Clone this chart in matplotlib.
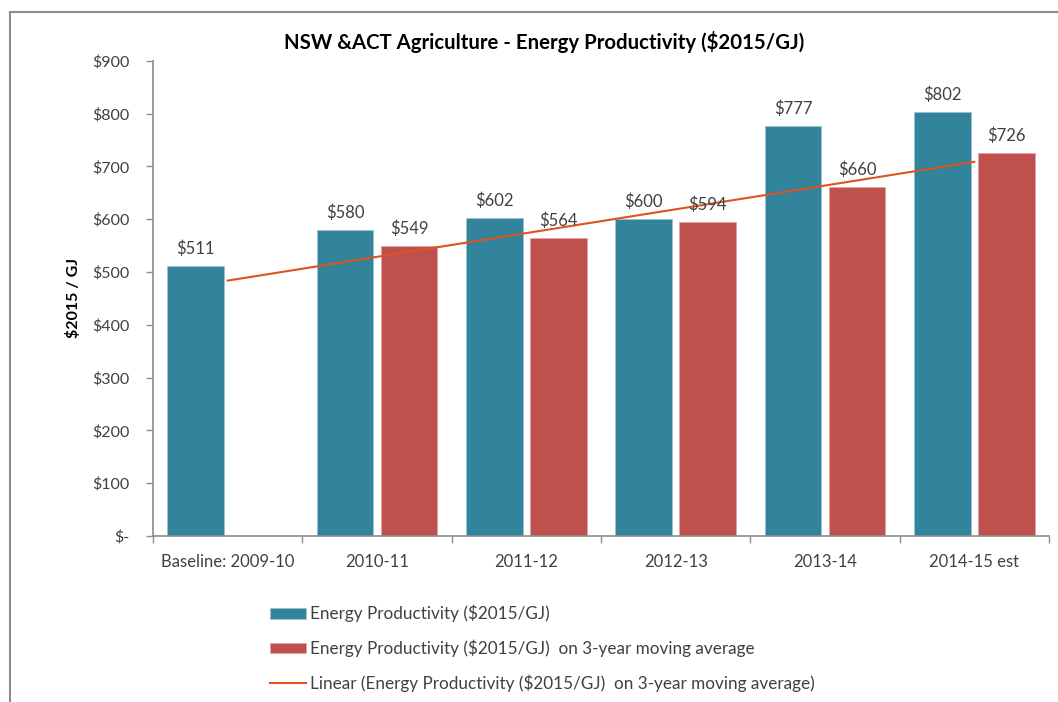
import matplotlib
matplotlib.use("Agg")
import matplotlib.pyplot as plt
import numpy as np
from matplotlib.lines import Line2D

plt.rcParams['font.family'] = ['Lato', 'DejaVu Sans']

categories = ["Baseline: 2009-10", "2010-11", "2011-12", "2012-13", "2013-14", "2014-15 est"]
energy_prod = [511, 580, 602, 600, 777, 802]
moving_avg = [None, 549, 564, 594, 660, 726]
yticks = [0, 100, 200, 300, 400, 500, 600, 700, 800, 900]
ytick_labels = ["$-", "$100", "$200", "$300", "$400", "$500", "$600", "$700", "$800", "$900"]

label1 = "Energy Productivity ($2015/GJ)"
label2 = "Energy Productivity ($2015/GJ)  on 3-year moving average"
label3 = "Linear (Energy Productivity ($2015/GJ)  on 3-year moving average)"

teal = "#31849B"
red = "#C0504D"
trend_col = "#DE5322"
txt_col = "#404040"
ax_col = "#8C8C8C"

W, H = 1058, 702
fig = plt.figure(figsize=(W / 100, H / 100), dpi=100)
ax = fig.add_axes([153 / W, 1 - 536 / H, (1049 - 153) / W, (536 - 60.7) / H])

x = np.arange(len(categories))
bw = 0.38
off = 0.215

b1 = ax.bar(x - off, energy_prod, bw, color=teal, edgecolor="#9CC3CF", linewidth=0.5, label=label1, zorder=2)
ma_x = np.array([i for i, v in enumerate(moving_avg) if v is not None])
ma_y = np.array([v for v in moving_avg if v is not None])
b2 = ax.bar(ma_x + off, ma_y, bw, color=red, edgecolor="#E0A5A3", linewidth=0.5, label=label2, zorder=2)

# data labels
for xi, v in zip(x - off, energy_prod):
    ax.text(xi, v + 17, f"${v}", ha="center", va="bottom", fontsize=12, color=txt_col, zorder=4)
for xi, v in zip(ma_x + off, ma_y):
    ax.text(xi, v + 17, f"${v}", ha="center", va="bottom", fontsize=12, color=txt_col, zorder=4)

# linear trendline of moving average (Excel indexes)
coef = np.polyfit(ma_x, ma_y, 1)
tx = np.array([0, len(categories) - 1])
ax.plot(tx, np.polyval(coef, tx), color=trend_col, linewidth=1.5, zorder=3, label=label3)

ax.set_xlim(-0.5, len(categories) - 0.5)
ax.set_ylim(0, 900)
ax.set_yticks(yticks)
ax.set_yticklabels(ytick_labels)
ax.set_xticks(x)
ax.set_xticklabels(categories)
ax.set_xticks(np.arange(-0.5, len(categories), 1), minor=True)
ax.tick_params(axis="x", which="major", length=0, pad=13, labelsize=12, labelcolor=txt_col)
ax.tick_params(axis="x", which="minor", length=5, direction="out", color=ax_col, width=1)
ax.tick_params(axis="y", length=5, direction="out", color=ax_col, width=1, pad=12, labelsize=11.5, labelcolor=txt_col)

for s in ["top", "right"]:
    ax.spines[s].set_visible(False)
for s in ["left", "bottom"]:
    ax.spines[s].set_color(ax_col)
    ax.spines[s].set_linewidth(1.2)

ax.set_ylabel("$2015 / GJ", fontsize=11.5, fontweight="bold", color="black")
ax.yaxis.set_label_coords(-(153 - 81) / (1049 - 153), 0.5)

fig.text(544 / W, 1 - 42 / H, "NSW &ACT Agriculture - Energy Productivity ($2015/GJ)",
         ha="center", va="center", fontsize=14.7, fontweight="bold", color="black")

# chart frame (top and left)
fig.add_artist(Line2D([10 / W, 1.0], [1 - 12 / H, 1 - 12 / H], color="#8C8C8C", linewidth=1.5, transform=fig.transFigure))
fig.add_artist(Line2D([10 / W, 10 / W], [1 - 12 / H, 0], color="#8C8C8C", linewidth=1.5, transform=fig.transFigure))

handles = [b1, b2, Line2D([0], [0], color=trend_col, linewidth=1.5)]
leg = fig.legend(handles, [label1, label2, label3], loc="upper left",
                 bbox_to_anchor=(270 / W, 1 - 605 / H), frameon=False, fontsize=12.3,
                 labelspacing=1.0, handlelength=2.1, handleheight=0.6, handletextpad=0.25,
                 borderpad=0, borderaxespad=0)
for t in leg.get_texts():
    t.set_color(txt_col)

fig.savefig("out.png", dpi=100)
